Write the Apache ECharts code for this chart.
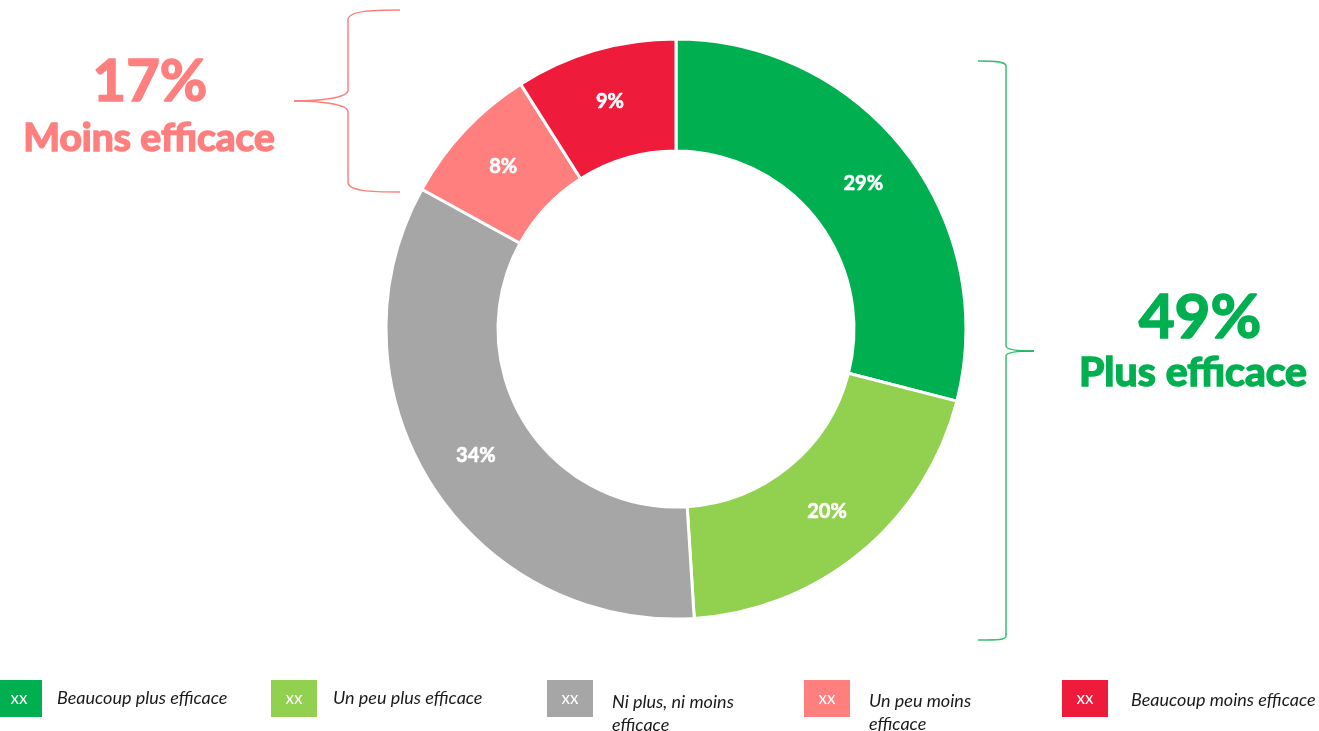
<!DOCTYPE html>
<html>
<head>
<meta charset="utf-8">
<script src="https://cdn.jsdelivr.net/npm/echarts@6/dist/echarts.min.js"></script>
<style>
  html, body { margin: 0; padding: 0; background: #fff; }
  #chart { width: 1319px; height: 731px; }
</style>
</head>
<body>
<div id="chart"></div>
<script>
// Response categories, shares (%) and slice colours
const categories = ['Beaucoup plus efficace', 'Un peu plus efficace', 'Ni plus, ni moins\nefficace', 'Un peu moins\nefficace', 'Beaucoup moins efficace'];
const values = [29, 20, 34, 8, 9];
const colors = ['#00B050', '#92D050', '#A6A6A6', '#FF7F7F', '#EE1B3B'];

// Grouped totals shown beside the braces
const lessTotal = { value: '17%', label: 'Moins efficace', color: '#FF7F7F' };
const moreTotal = { value: '49%', label: 'Plus efficace', color: '#00B050' };

const FONT = 'Lato, "Open Sans", sans-serif';

const chart = echarts.init(document.getElementById('chart'), null, { renderer: 'canvas' });

// Builds a curly brace from straight and cubic segments.
// Each segment: ['L', x1,y1,x2,y2] or ['C', x1,y1, cpx1,cpy1, cpx2,cpy2, x2,y2]
function brace(segments, color, opacity) {
  return segments.map(s => {
    const style = { stroke: color, lineWidth: 1.5, fill: null, opacity: opacity };
    if (s[0] === 'L') {
      return { type: 'line', shape: { x1: s[1], y1: s[2], x2: s[3], y2: s[4] }, style };
    }
    return {
      type: 'bezierCurve',
      shape: { x1: s[1], y1: s[2], cpx1: s[3], cpy1: s[4], cpx2: s[5], cpy2: s[6], x2: s[7], y2: s[8] },
      style
    };
  });
}

const lessBrace = brace([
  ['C', 400, 10, 370, 10, 348, 11, 348, 20],
  ['L', 348, 20, 348, 90],
  ['C', 348, 90, 348, 98, 320, 101, 294, 101],
  ['C', 294, 101, 320, 101, 348, 104, 348, 112],
  ['L', 348, 112, 348, 182],
  ['C', 348, 182, 348, 191, 370, 192, 400, 192]
], '#FF7F7F', 1);

const moreBrace = brace([
  ['C', 978, 61, 998, 61, 1006, 62, 1006, 66],
  ['L', 1006, 66, 1006, 346],
  ['C', 1006, 346, 1006, 350, 1020, 351, 1034, 351],
  ['C', 1034, 351, 1020, 351, 1006, 352, 1006, 356],
  ['L', 1006, 356, 1006, 636],
  ['C', 1006, 636, 1006, 640, 998, 640, 978, 640]
], '#00B050', 0.8);

// Heavy display text (a thin outline in the fill colour thickens the strokes)
function bigText(x, y, text, color, size) {
  return {
    type: 'text', x: x, y: y,
    style: {
      text: text, fill: color, stroke: color, lineWidth: 1.6,
      font: 'bold ' + size + 'px ' + FONT, align: 'center', verticalAlign: 'middle'
    }
  };
}

// Legend: coloured box with "xx" followed by the italic category name
const legendX = [-4, 271, 547, 804, 1062];
const legendTextX = [57, 333, 612, 869, 1131];
const legendTextY = [698, 698, 702, 701, 700];
const legendGraphics = [];
categories.forEach((name, i) => {
  legendGraphics.push({
    type: 'rect', x: legendX[i], y: 680,
    shape: { width: 46, height: 37 },
    style: { fill: colors[i] }
  });
  legendGraphics.push({
    type: 'text', x: legendX[i] + 23, y: 699,
    style: { text: 'xx', fill: '#fff', font: '17px ' + FONT, align: 'center', verticalAlign: 'middle' }
  });
  legendGraphics.push({
    type: 'text', x: legendTextX[i], y: legendTextY[i] - 11,
    style: { text: name, fill: '#1a1a1a', font: 'italic 18px ' + FONT, lineHeight: 23, verticalAlign: 'top' }
  });
});

chart.setOption({
  animation: false,
  backgroundColor: '#fff',
  series: [{
    type: 'pie',
    center: [676, 329],
    radius: [178, 290],
    startAngle: 90,
    clockwise: true,
    avoidLabelOverlap: false,
    itemStyle: { borderColor: '#fff', borderWidth: 3 },
    label: {
      show: true,
      position: 'inside',
      formatter: '{c}%',
      color: '#fff',
      textBorderColor: '#fff',
      textBorderWidth: 0.6,
      fontFamily: FONT,
      fontWeight: 'bold',
      fontSize: 20
    },
    labelLine: { show: false },
    emphasis: { disabled: true },
    data: values.map((v, i) => ({ value: v, name: categories[i], itemStyle: { color: colors[i] } }))
  }],
  graphic: [
    bigText(150, 82, lessTotal.value, lessTotal.color, 58),
    bigText(149, 138, lessTotal.label, lessTotal.color, 39),
    bigText(1200, 318, moreTotal.value, moreTotal.color, 62),
    bigText(1193, 373, moreTotal.label, moreTotal.color, 41)
  ].concat(lessBrace, moreBrace, legendGraphics)
});
</script>
</body>
</html>
